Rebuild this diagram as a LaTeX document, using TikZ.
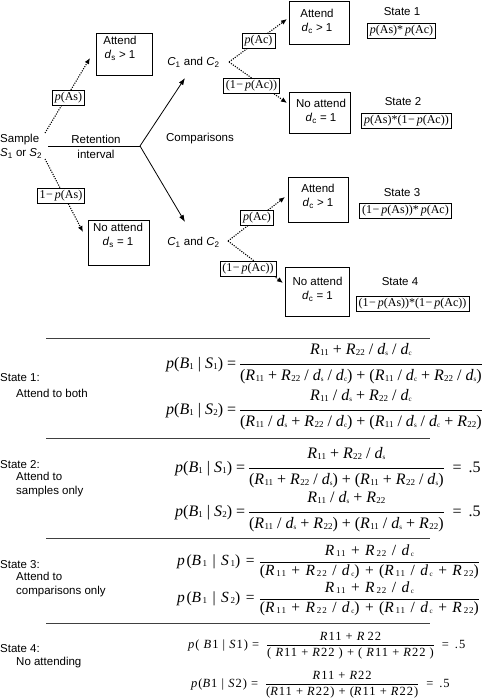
\documentclass[tikz,border=0pt]{standalone}
\usepackage{fontspec}
\setmainfont{Liberation Sans}
\newfontfamily\tms{Liberation Serif}
\newfontfamily\tmsw{Liberation Serif}[LetterSpace=10]
\newfontfamily\tmsv{Liberation Serif}[LetterSpace=8]
\usetikzlibrary{arrows.meta}

\newcommand\Rr[1]{\textit{R}\kern0.3pt\raisebox{-1pt}{\fontsize{9}{9}\selectfont #1}}
\newcommand\dd[1]{\textit{d}\raisebox{-1pt}{\fontsize{7}{7}\selectfont #1}}
\newcommand\Bb[1]{\textit{B}\raisebox{-1pt}{\fontsize{9}{9}\selectfont #1}}
\newcommand\Sx[1]{\textit{S}\kern0.3pt\raisebox{-1pt}{\fontsize{9}{9}\selectfont #1}}
% fraction: #1 num depth, #2 num total, #3 den depth, #4 den total, #5 num, #6 den
\newcommand\fr[6]{{\setlength\arrayrulewidth{0.6pt}\renewcommand\arraystretch{0}%
\begin{tabular}[c]{@{}c@{}}\rule[-#1]{0pt}{#2}#5\\\hline\rule[-#3]{0pt}{#4}#6\end{tabular}}}
\newcommand\frA[2]{\fr{9pt}{21pt}{5pt}{21pt}{#1}{#2}}
\newcommand\frB[2]{\fr{6pt}{17pt}{4pt}{17pt}{#1}{#2}}
\newcommand\frC[2]{\fr{4pt}{14pt}{3pt}{14pt}{#1}{#2}}

\tikzset{
  sans/.style={font=\fontsize{11.5}{14}\selectfont, inner sep=0pt, align=center},
  lefttxt/.style={font=\fontsize{11.5}{14}\selectfont, inner sep=0pt, anchor=west, align=left},
  box/.style={draw, line width=0.8pt, inner sep=0pt},
  lbl/.style={draw, line width=0.6pt, fill=white, inner xsep=2.5pt, inner ysep=2pt,
              font=\tms\fontsize{12}{12}\selectfont},
  dotarr/.style={line width=1.1pt, dash pattern=on 1.1pt off 1.3pt,
                 -{Latex[length=6pt,width=5pt]}},
  solarr/.style={line width=0.8pt, -{Latex[length=7pt,width=5pt]}},
  rulel/.style={draw=black!75, line width=0.7pt},
  eqA/.style={font=\tms\fontsize{16}{18}\selectfont, inner sep=0pt, anchor=west},
  eqB/.style={font=\tmsw\fontsize{15.5}{18}\selectfont, inner sep=0pt, anchor=west},
  eqC/.style={font=\tmsv\fontsize{12.5}{14}\selectfont, inner sep=0pt, anchor=west},
}

\begin{document}
\begin{tikzpicture}[x=1pt,y=-1pt]
\useasboundingbox (0,0) rectangle (488,699);

% ---------- tree ----------
\node[lefttxt] (sample) at (0,146.5) {Sample\\\textit{S}\textsubscript{1} or \textit{S}\textsubscript{2}};
\node[sans] (ret) at (96,146.5) {Retention\\[1pt]interval};
\node[sans] (comp) at (200,139) {Comparisons};
\coordinate (rs) at (48,146);
\coordinate (re) at (140,146);
\draw[line width=0.8pt] (rs) -- (re);

\node[sans] (cu) at (193.5,62) {\textit{C}\textsubscript{1} and \textit{C}\textsubscript{2}};
\node[sans] (cl) at (193.5,242) {\textit{C}\textsubscript{1} and \textit{C}\textsubscript{2}};
\coordinate (au) at (185,78);
\coordinate (al) at (185,222);
\draw[solarr] (re) -- (au);
\draw[solarr] (re) -- (al);

% sample boxes
\node[box, minimum width=56pt, minimum height=42pt] (attS) at (124,54) {};
\node[sans] (attSt) at (120,48.5) {Attend\\\textit{d}\textsubscript{s} > 1};
\node[box, minimum width=61pt, minimum height=45pt] (noS) at (118.5,242.5) {};
\node[sans] (noSt) at (118,235) {No attend\\\textit{d}\textsubscript{s} = 1};

\coordinate (s1) at (45,133);
\coordinate (a1) at (90,58);
\draw[dotarr] (s1) -- (a1);
\node[lbl] (l1) at (68.5,97.5) {\textit{p}(As)};
\coordinate (s2) at (45,159);
\coordinate (a2) at (83,232);
\draw[dotarr] (s2) -- (a2);
\node[lbl] (l2) at (61,195.5) {1\kern0.5pt−\,\textit{p}(As)};

% comparison boxes
\node[box, minimum width=60pt, minimum height=43pt] (attU) at (319,22.5) {};
\node[sans] (attUt) at (317,21.5) {Attend\\\textit{d}\textsubscript{c} > 1};
\node[box, minimum width=61pt, minimum height=41pt] (noU) at (319.5,112.5) {};
\node[sans] (noUt) at (321,111) {No attend\\\textit{d}\textsubscript{c} = 1};
\node[box, minimum width=60pt, minimum height=45pt] (attL) at (318,199.5) {};
\node[sans] (attLt) at (318,196) {Attend\\\textit{d}\textsubscript{c} > 1};
\node[box, minimum width=64pt, minimum height=49pt] (noL) at (317,291.5) {};
\node[sans] (noLt) at (317.5,289) {No attend\\\textit{d}\textsubscript{c} = 1};

\coordinate (cuo) at (229,62);
\coordinate (e1) at (287,19);
\coordinate (e2) at (287,103);
\draw[dotarr] (cuo) -- (e1);
\draw[dotarr] (cuo) -- (e2);
\node[lbl] (l3) at (258.5,41) {\textit{p}(Ac)};
\node[lbl] (l4) at (251.5,85.5) {(1\kern0.5pt−\,\textit{p}(Ac))};

\coordinate (clo) at (228,241);
\coordinate (e3) at (285,197);
\coordinate (e4) at (283,283);
\draw[dotarr] (clo) -- (e3);
\draw[dotarr] (clo) -- (e4);
\node[lbl] (l5) at (257,218) {\textit{p}(Ac)};
\node[lbl] (l6) at (248,268.5) {(1\kern0.5pt−\,\textit{p}(Ac))};

% states
\node[sans] (st1) at (402,12) {State 1};
\node[lbl] (pr1) at (401.5,31) {\textit{p}(As)*\,\textit{p}(Ac)};
\node[sans] (st2) at (403,102) {State 2};
\node[lbl] (pr2) at (406.5,121) {\textit{p}(As)*(1\kern0.5pt−\,\textit{p}(Ac))};
\node[sans] (st3) at (402,193) {State 3};
\node[lbl] (pr3) at (405.5,210.5) {(1\kern0.5pt−\,\textit{p}(As))*\,\textit{p}(Ac)};
\node[sans] (st4) at (400,282) {State 4};
\node[lbl] (pr4) at (412.5,303.5) {(1\kern0.5pt−\,\textit{p}(As))*(1\kern0.5pt−\,\textit{p}(Ac))};

% ---------- equations ----------
\draw[rulel] (46,338) -- (430,338);
\draw[rulel] (46,438) -- (430,438);
\draw[rulel] (46,538) -- (430,538);
\draw[rulel] (46,623) -- (430,623);

\node[lefttxt] (t1a) at (0,378) {State 1:};
\node[lefttxt] (t1b) at (16,393) {Attend to both};
\node[lefttxt] (t2a) at (0,465) {State 2:};
\node[lefttxt] (t2b) at (16,485) {Attend to\\samples only};
\node[lefttxt] (t3a) at (0,565) {State 3:};
\node[lefttxt] (t3b) at (16,584.5) {Attend to\\comparisons only};
\node[lefttxt] (t4a) at (0,649) {State 4:};
\node[lefttxt] (t4b) at (16,663) {No attending};

\node[eqA] (eq1) at (166,364) {\textit{p}(\Bb1 | \Sx1) = \frA{\Rr{11} + \Rr{22} / \dd{s} / \dd{c}}{(\Rr{11} + \Rr{22} / \dd{s} / \dd{c}) + (\Rr{11} / \dd{c} + \Rr{22} / \dd{s})}};
\node[eqA] (eq2) at (166,410) {\textit{p}(\Bb1 | \Sx2) = \frA{\Rr{11} / \dd{s} + \Rr{22} / \dd{c}}{(\Rr{11} / \dd{s} + \Rr{22} / \dd{c}) + (\Rr{11} / \dd{s} / \dd{c} + \Rr{22})}};

\node[eqA] (eq3) at (175,468) {\textit{p}(\Bb1 | \Sx1) = \frA{\Rr{11} + \Rr{22} / \dd{s}}{(\Rr{11} + \Rr{22} / \dd{s}) + (\Rr{11} + \Rr{22} / \dd{s})}\hspace{9pt}=\hspace{7pt}.5};
\node[eqA] (eq4) at (175,512) {\textit{p}(\Bb1 | \Sx2) = \frA{\Rr{11} / \dd{s} + \Rr{22}}{(\Rr{11} / \dd{s} + \Rr{22}) + (\Rr{11} / \dd{s} + \Rr{22})}\hspace{9pt}=\hspace{7pt}.5};

\node[eqB] (eq5) at (177,562) {\textit{p}(\Bb1 | \Sx1) = \frB{\Rr{11} + \Rr{22} / \dd{c}}{(\Rr{11} + \Rr{22} / \dd{c}) + (\Rr{11} / \dd{c} + \Rr{22})}};
\node[eqB] (eq6) at (177,599) {\textit{p}(\Bb1 | \Sx2) = \frB{\Rr{11} + \Rr{22} / \dd{c}}{(\Rr{11} + \Rr{22} / \dd{c}) + (\Rr{11} / \dd{c} + \Rr{22})}};

\node[eqC] (eq7) at (188,645) {\textit{p}( \textit{B}1 | \textit{S}1) =\hspace{8pt}\frC{\textit{R}11 + \textit{R}\,22}{( \textit{R}11 + \textit{R}22 ) + ( \textit{R}11 + \textit{R}22 )}\hspace{8pt}=\hspace{6pt}.5};
\node[eqC] (eq8) at (191,684) {\textit{p}(\textit{B}1 | \textit{S}2) =\hspace{8pt}\frC{\textit{R}11 + \textit{R}22}{(\textit{R}11 + \textit{R}22) + (\textit{R}11 + \textit{R}22)}\hspace{8pt}=\hspace{6pt}.5};

\end{tikzpicture}
\end{document}
